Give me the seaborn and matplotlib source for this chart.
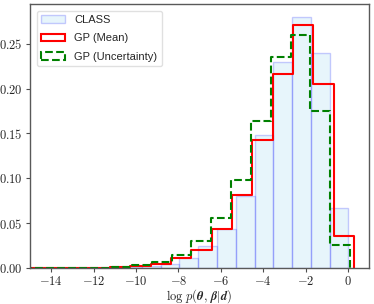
import matplotlib
matplotlib.use("Agg")
import matplotlib.pyplot as plt
import numpy as np
import seaborn as sns
from matplotlib.patches import Patch
from matplotlib.ticker import FuncFormatter

# bin edges (ascending) and densities
class_edges = [-15.025, -14.14, -13.255, -12.37, -11.485, -10.6, -9.715, -8.83,
               -7.945, -7.06, -6.175, -5.29, -4.405, -3.52, -2.635, -1.75, -0.865, 0.02]
class_heights = [0.0001, 0.0001, 0.0002, 0.0003, 0.0006, 0.0012, 0.0025, 0.005,
                 0.0116, 0.0245, 0.0436, 0.081, 0.148, 0.230, 0.280, 0.239, 0.067]

mean_edges = [-15.07, -14.11, -13.15, -12.19, -11.23, -10.27, -9.31, -8.35,
              -7.39, -6.43, -5.47, -4.51, -3.55, -2.59, -1.63, -0.67, 0.29, 0.30]
mean_heights = [0.0001, 0.0001, 0.0002, 0.0005, 0.0012, 0.0025, 0.005, 0.0112,
                0.0208, 0.0436, 0.0815, 0.143, 0.216, 0.271, 0.205, 0.036, 0.0]

unc_edges = [-15.795, -14.86, -13.925, -12.99, -12.055, -11.12, -10.185, -9.25,
             -8.315, -7.38, -6.445, -5.51, -4.575, -3.64, -2.705, -1.77, -0.835, 0.10, 0.11]
unc_heights = [0.0001, 0.0001, 0.0002, 0.0005, 0.001, 0.002, 0.004, 0.0068,
               0.0149, 0.0307, 0.0557, 0.098, 0.164, 0.2345, 0.260, 0.1746, 0.0263, 0.0]

x_ticks = [-14, -12, -10, -8, -6, -4, -2, 0]
y_ticks = [0.00, 0.05, 0.10, 0.15, 0.20, 0.25]


def centers(edges):
    e = np.asarray(edges)
    return (e[:-1] + e[1:]) / 2


sns.set_style("ticks")
plt.rcParams["mathtext.fontset"] = "cm"
plt.rcParams["font.family"] = ["Liberation Sans", "DejaVu Sans"]

fig = plt.figure(figsize=(3.74, 3.04), dpi=100)
ax = fig.add_axes([0.080, 0.117, 0.907, 0.870])

class_face = (0.529, 0.808, 0.922, 0.2)
class_edge = (0.0, 0.0, 1.0, 0.2)

sns.histplot(x=centers(class_edges), weights=class_heights, bins=class_edges,
             element="bars", stat="count", ax=ax,
             facecolor=class_face, edgecolor=class_edge, linewidth=1.0)
sns.histplot(x=centers(mean_edges), weights=mean_heights, bins=mean_edges,
             element="step", fill=False, stat="count", ax=ax,
             color="red", linewidth=1.5)
sns.histplot(x=centers(unc_edges), weights=unc_heights, bins=unc_edges,
             element="step", fill=False, stat="count", ax=ax,
             color="green", linewidth=1.5, linestyle="--")

ax.set_xlim(-15, 1)
ax.set_ylim(0, 0.294)
ax.set_xticks(x_ticks)
ax.set_yticks(y_ticks)
ax.xaxis.set_major_formatter(FuncFormatter(lambda v, p: r"$%d$" % v))
ax.yaxis.set_major_formatter(FuncFormatter(lambda v, p: r"$%.2f$" % v))
ax.tick_params(labelsize=9, length=3, width=0.8, color=".3", pad=2)
for s in ax.spines.values():
    s.set_color(".35")
    s.set_linewidth(1.0)

ax.set_ylabel("")
ax.set_xlabel(r"$\log\, p(\boldsymbol{\theta},\, \boldsymbol{\beta}|\boldsymbol{d})$",
              fontsize=9, labelpad=-0.5)

handles = [
    Patch(facecolor=class_face, edgecolor=class_edge, linewidth=1.0, label="CLASS"),
    Patch(facecolor="white", edgecolor="red", linewidth=1.5, label="GP (Mean)"),
    Patch(facecolor="white", edgecolor="green", linewidth=1.5, linestyle="--",
          label="GP (Uncertainty)"),
]
ax.legend(handles=handles, loc="upper left", fontsize=8, frameon=True,
          fancybox=True, edgecolor="0.85", borderaxespad=0.6,
          labelspacing=0.75, handlelength=2.2)

fig.savefig("out.png", dpi=100)
